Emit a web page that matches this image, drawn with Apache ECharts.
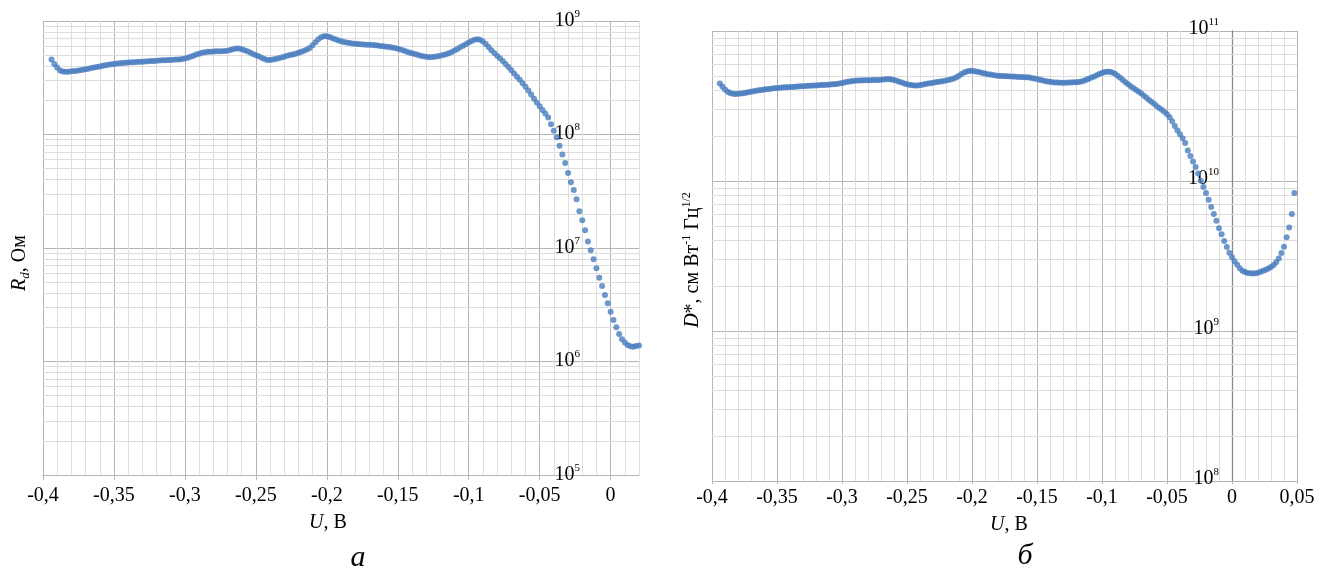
<!DOCTYPE html>
<html>
<head>
<meta charset="utf-8">
<script src="https://cdn.jsdelivr.net/npm/echarts@6/dist/echarts.min.js"></script>
<style>
html,body{margin:0;padding:0;background:#fff;}
#c{width:1324px;height:573px;}
</style>
</head>
<body>
<div id="c"></div>
<script>
// Bias voltage sweep, V (same sweep for both panels)
const U = [
 -0.394,-0.392,-0.39,-0.388,-0.386,-0.384,-0.382,-0.38,-0.378,-0.376,
 -0.374,-0.372,-0.37,-0.368,-0.366,-0.364,-0.362,-0.36,-0.358,-0.356,
 -0.354,-0.352,-0.35,-0.348,-0.346,-0.344,-0.342,-0.34,-0.338,-0.336,
 -0.334,-0.332,-0.33,-0.328,-0.326,-0.324,-0.322,-0.32,-0.318,-0.316,
 -0.314,-0.312,-0.31,-0.308,-0.306,-0.304,-0.302,-0.3,-0.298,-0.296,
 -0.294,-0.292,-0.29,-0.288,-0.286,-0.284,-0.282,-0.28,-0.278,-0.276,
 -0.274,-0.272,-0.27,-0.268,-0.266,-0.264,-0.262,-0.26,-0.258,-0.256,
 -0.254,-0.252,-0.25,-0.248,-0.246,-0.244,-0.242,-0.24,-0.238,-0.236,
 -0.234,-0.232,-0.23,-0.228,-0.226,-0.224,-0.222,-0.22,-0.218,-0.216,
 -0.214,-0.212,-0.21,-0.208,-0.206,-0.204,-0.202,-0.2,-0.198,-0.196,
 -0.194,-0.192,-0.19,-0.188,-0.186,-0.184,-0.182,-0.18,-0.178,-0.176,
 -0.174,-0.172,-0.17,-0.168,-0.166,-0.164,-0.162,-0.16,-0.158,-0.156,
 -0.154,-0.152,-0.15,-0.148,-0.146,-0.144,-0.142,-0.14,-0.138,-0.136,
 -0.134,-0.132,-0.13,-0.128,-0.126,-0.124,-0.122,-0.12,-0.118,-0.116,
 -0.114,-0.112,-0.11,-0.108,-0.106,-0.104,-0.102,-0.1,-0.098,-0.096,
 -0.094,-0.092,-0.09,-0.088,-0.086,-0.084,-0.082,-0.08,-0.078,-0.076,
 -0.074,-0.072,-0.07,-0.068,-0.066,-0.064,-0.062,-0.06,-0.058,-0.056,
 -0.054,-0.052,-0.05,-0.048,-0.046,-0.044,-0.042,-0.04,-0.038,-0.036,
 -0.034,-0.032,-0.03,-0.028,-0.026,-0.024,-0.022,-0.02,-0.018,-0.016,
 -0.014,-0.012,-0.01,-0.008,-0.006,-0.004,-0.002,0,0.002,0.004,
 0.006,0.008,0.01,0.012,0.014,0.016,0.018,0.02,0.022,0.024,
 0.026,0.028,0.03,0.032,0.034,0.036,0.038,0.04,0.042,0.044,
 0.046,0.048
];

// Panel a: differential resistance Rd, Ohm (U from -0.394 to 0.020)
const RD = [
 4.57e8,4.17e8,3.89e8,3.67e8,3.59e8,3.57e8,3.57e8,3.60e8,3.62e8,3.65e8,
 3.68e8,3.72e8,3.76e8,3.80e8,3.85e8,3.89e8,3.94e8,3.98e8,4.03e8,4.07e8,
 4.11e8,4.15e8,4.19e8,4.22e8,4.25e8,4.27e8,4.29e8,4.31e8,4.32e8,4.34e8,
 4.35e8,4.37e8,4.38e8,4.40e8,4.42e8,4.44e8,4.45e8,4.47e8,4.48e8,4.50e8,
 4.51e8,4.53e8,4.54e8,4.56e8,4.57e8,4.59e8,4.62e8,4.68e8,4.75e8,4.85e8,
 4.95e8,5.06e8,5.15e8,5.25e8,5.31e8,5.35e8,5.37e8,5.38e8,5.40e8,5.41e8,
 5.42e8,5.45e8,5.48e8,5.56e8,5.65e8,5.73e8,5.71e8,5.64e8,5.53e8,5.41e8,
 5.27e8,5.13e8,5.00e8,4.88e8,4.74e8,4.62e8,4.54e8,4.53e8,4.57e8,4.63e8,
 4.70e8,4.78e8,4.85e8,4.93e8,5.01e8,5.08e8,5.15e8,5.25e8,5.35e8,5.46e8,
 5.60e8,5.78e8,6.10e8,6.49e8,6.89e8,7.18e8,7.35e8,7.35e8,7.21e8,7.05e8,
 6.89e8,6.75e8,6.64e8,6.53e8,6.46e8,6.40e8,6.35e8,6.31e8,6.28e8,6.25e8,
 6.22e8,6.19e8,6.17e8,6.14e8,6.11e8,6.07e8,6.03e8,5.98e8,5.94e8,5.90e8,
 5.85e8,5.78e8,5.70e8,5.60e8,5.50e8,5.38e8,5.28e8,5.20e8,5.12e8,5.04e8,
 4.95e8,4.89e8,4.83e8,4.80e8,4.81e8,4.84e8,4.89e8,4.94e8,5.01e8,5.09e8,
 5.20e8,5.33e8,5.50e8,5.68e8,5.86e8,6.04e8,6.24e8,6.46e8,6.67e8,6.84e8,
 6.90e8,6.82e8,6.61e8,6.27e8,5.89e8,5.52e8,5.22e8,4.95e8,4.70e8,4.45e8,
 4.19e8,3.93e8,3.68e8,3.44e8,3.23e8,3.03e8,2.83e8,2.64e8,2.44e8,2.25e8,
 2.07e8,1.91e8,1.77e8,1.64e8,1.53e8,1.41e8,1.23e8,1.08e8,9.44e7,7.94e7,
 6.68e7,5.62e7,4.57e7,3.80e7,3.24e7,2.69e7,2.11e7,1.76e7,1.43e7,1.14e7,
 9.55e6,7.94e6,6.64e6,5.47e6,4.62e6,3.85e6,3.26e6,2.75e6,2.32e6,2.00e6,
 1.75e6,1.57e6,1.47e6,1.40e6,1.36e6,1.35e6,1.37e6,1.38e6
];

// Panel b: detectivity D*, cm W^-1 Hz^1/2 (U from -0.394 to 0.048)
const DSTAR = [
 4.47e10,4.27e10,4.07e10,3.94e10,3.86e10,3.82e10,3.80e10,3.81e10,3.83e10,3.85e10,
 3.88e10,3.91e10,3.94e10,3.96e10,3.99e10,4.02e10,4.05e10,4.07e10,4.09e10,4.11e10,
 4.13e10,4.15e10,4.17e10,4.19e10,4.20e10,4.21e10,4.22e10,4.23e10,4.24e10,4.25e10,
 4.26e10,4.28e10,4.29e10,4.30e10,4.31e10,4.32e10,4.33e10,4.34e10,4.35e10,4.36e10,
 4.37e10,4.38e10,4.39e10,4.41e10,4.42e10,4.44e10,4.47e10,4.50e10,4.54e10,4.58e10,
 4.61e10,4.65e10,4.66e10,4.67e10,4.68e10,4.69e10,4.69e10,4.70e10,4.70e10,4.71e10,
 4.71e10,4.72e10,4.73e10,4.75e10,4.76e10,4.78e10,4.75e10,4.71e10,4.66e10,4.59e10,
 4.53e10,4.47e10,4.42e10,4.38e10,4.35e10,4.34e10,4.34e10,4.36e10,4.39e10,4.43e10,
 4.46e10,4.49e10,4.52e10,4.55e10,4.58e10,4.61e10,4.65e10,4.68e10,4.72e10,4.76e10,
 4.83e10,4.92e10,5.04e10,5.16e10,5.28e10,5.37e10,5.42e10,5.43e10,5.40e10,5.35e10,
 5.30e10,5.25e10,5.20e10,5.15e10,5.12e10,5.08e10,5.06e10,5.04e10,5.02e10,5.01e10,
 5.00e10,4.99e10,4.98e10,4.97e10,4.95e10,4.94e10,4.93e10,4.92e10,4.91e10,4.90e10,
 4.86e10,4.82e10,4.78e10,4.73e10,4.69e10,4.65e10,4.61e10,4.58e10,4.56e10,4.54e10,
 4.53e10,4.52e10,4.52e10,4.52e10,4.53e10,4.54e10,4.55e10,4.56e10,4.57e10,4.60e10,
 4.66e10,4.73e10,4.81e10,4.89e10,4.98e10,5.07e10,5.16e10,5.25e10,5.32e10,5.36e10,
 5.35e10,5.28e10,5.18e10,5.04e10,4.88e10,4.71e10,4.55e10,4.42e10,4.29e10,4.17e10,
 4.06e10,3.95e10,3.84e10,3.72e10,3.60e10,3.48e10,3.37e10,3.27e10,3.16e10,3.07e10,
 2.98e10,2.89e10,2.79e10,2.66e10,2.50e10,2.33e10,2.17e10,2.05e10,1.93e10,1.79e10,
 1.60e10,1.47e10,1.35e10,1.24e10,1.12e10,1.005e10,9.12e9,8.32e9,7.50e9,6.70e9,
 6.03e9,5.43e9,4.84e9,4.42e9,3.98e9,3.63e9,3.33e9,3.10e9,2.92e9,2.77e9,
 2.62e9,2.52e9,2.47e9,2.44e9,2.43e9,2.42e9,2.43e9,2.45e9,2.48e9,2.52e9,
 2.56e9,2.61e9,2.67e9,2.75e9,2.87e9,3.04e9,3.31e9,3.65e9,4.22e9,4.90e9,
 6.03e9,8.32e9
];

// Tick labels
const X_TICKS_A = [-0.4,-0.35,-0.3,-0.25,-0.2,-0.15,-0.1,-0.05,0];
const X_TICKS_B = [-0.4,-0.35,-0.3,-0.25,-0.2,-0.15,-0.1,-0.05,0,0.05];
const Y_DECADES_A = [5, 9];   // 10^5 .. 10^9
const Y_DECADES_B = [8, 11];  // 10^8 .. 10^11

const FONT = '"Liberation Serif", "Times New Roman", serif';
const BLUE = '#4a7dbf';
const MAJOR = '#b5b5b5';
const MINOR = '#dedede';

function xLabel(v) {
  const r = Math.round(v * 100) / 100;
  return (r === 0 ? '0' : String(r)).replace('.', ',');
}
function yLabel(v) {
  return '{b|10}{s|' + Math.round(Math.log10(v)) + '}';
}
function minorLog(dec) {
  const out = [];
  for (let e = dec[0]; e < dec[1]; e++) for (let k = 2; k <= 9; k++) out.push(k * Math.pow(10, e));
  return out;
}
const yRich = {
  b: {fontFamily: FONT, fontSize: 20, lineHeight: 22, color: '#000', verticalAlign: 'bottom'},
  s: {fontFamily: FONT, fontSize: 11, lineHeight: 11, color: '#000', verticalAlign: 'top'}
};

function minorX(grid, max) {
  return {gridIndex: grid, type: 'value', position: 'bottom', min: -0.4, max: max, interval: 0.01,
    axisLine: {show: false, onZero: false}, axisTick: {show: false}, axisLabel: {show: false},
    splitLine: {show: true, lineStyle: {color: MINOR, width: 1}}};
}
function majorX(grid, max, ticks, margin, tickLen) {
  return {gridIndex: grid, type: 'value', position: 'bottom', min: -0.4, max: max, interval: 0.05,
    axisLine: {show: true, onZero: false, lineStyle: {color: MAJOR, width: 1}},
    axisTick: {show: true, length: tickLen, customValues: ticks, lineStyle: {color: MAJOR}},
    axisLabel: {customValues: ticks, formatter: xLabel, margin: margin, fontFamily: FONT, fontSize: 20, color: '#000'},
    splitLine: {show: true, lineStyle: {color: MAJOR, width: 1}}};
}
function gridLines(xi, yi, dec) {
  return {type: 'line', xAxisIndex: xi, yAxisIndex: yi, data: [[-0.4, Math.pow(10, dec[0])]],
    symbol: 'none', showSymbol: false, silent: true, z: 1, lineStyle: {width: 0},
    markLine: {silent: true, symbol: ['none', 'none'], z: 1, animation: false,
      label: {show: false}, emphasis: {disabled: true},
      lineStyle: {color: MINOR, type: 'solid', width: 1},
      data: minorLog(dec).map(v => ({yAxis: v}))}};
}

const chart = echarts.init(document.getElementById('c'));
chart.setOption({
  animation: false,
  backgroundColor: '#fff',
  grid: [
    {left: 43, top: 21, width: 596, height: 454, outerBoundsMode: 'none', containLabel: false},
    {left: 712, top: 31, width: 585, height: 450, outerBoundsMode: 'none', containLabel: false}
  ],
  xAxis: [
    minorX(0, 0.02),
    majorX(0, 0.02, X_TICKS_A, 11, 5),
    minorX(1, 0.05),
    majorX(1, 0.05, X_TICKS_B, 7, 3)
  ],
  yAxis: [
    // labels sit just left of U = 0 (offset moves the axis inward)
    {gridIndex: 0, type: 'log', logBase: 10, position: 'left', offset: -568,
      min: Math.pow(10, Y_DECADES_A[0]), max: Math.pow(10, Y_DECADES_A[1]),
      axisLine: {show: false, onZero: false}, axisTick: {show: false},
      axisLabel: {formatter: yLabel, rich: yRich, margin: 31, padding: [0, 0, 3, 0]},
      splitLine: {show: true, lineStyle: {color: MAJOR, width: 1}}},
    {gridIndex: 1, type: 'log', logBase: 10, position: 'left', offset: -520,
      min: Math.pow(10, Y_DECADES_B[0]), max: Math.pow(10, Y_DECADES_B[1]),
      axisLine: {show: true, onZero: false, lineStyle: {color: '#8a8a8a', width: 1.3}},
      axisTick: {show: false},
      axisLabel: {formatter: yLabel, rich: yRich, margin: 13, padding: [0, 0, 7, 0]},
      splitLine: {show: true, lineStyle: {color: MAJOR, width: 1}}}
  ],
  series: [
    gridLines(1, 0, Y_DECADES_A),
    gridLines(3, 1, Y_DECADES_B),
    {type: 'scatter', xAxisIndex: 1, yAxisIndex: 0, z: 3, silent: true,
      symbol: 'circle', symbolSize: 6, itemStyle: {color: BLUE},
      data: RD.map((r, i) => [U[i], r])},
    {type: 'scatter', xAxisIndex: 3, yAxisIndex: 1, z: 3, silent: true,
      symbol: 'circle', symbolSize: 6, itemStyle: {color: BLUE},
      data: DSTAR.map((d, i) => [U[i], d])}
  ],
  graphic: [
    {type: 'text', x: 328, y: 523, style: {text: '{i|U}{n|, В}', align: 'center', verticalAlign: 'middle',
      rich: {i: {fontFamily: FONT, fontSize: 20, fontStyle: 'italic', fill: '#000'}, n: {fontFamily: FONT, fontSize: 20, fill: '#000'}}}},
    {type: 'text', x: 1009, y: 525, style: {text: '{i|U}{n|, В}', align: 'center', verticalAlign: 'middle',
      rich: {i: {fontFamily: FONT, fontSize: 20, fontStyle: 'italic', fill: '#000'}, n: {fontFamily: FONT, fontSize: 20, fill: '#000'}}}},
    {type: 'text', x: 358, y: 558, style: {text: 'а', align: 'center', verticalAlign: 'middle',
      fontFamily: FONT, fontSize: 30, fontStyle: 'italic', fill: '#000'}},
    {type: 'text', x: 1025, y: 556, style: {text: 'б', align: 'center', verticalAlign: 'middle',
      fontFamily: FONT, fontSize: 30, fontStyle: 'italic', fill: '#000'}},
    {type: 'text', x: 20, y: 263, rotation: Math.PI / 2, style: {text: '{i|R}{sub|d}{n|, Ом}', align: 'center', verticalAlign: 'middle',
      rich: {
        i: {fontFamily: FONT, fontSize: 20, fontStyle: 'italic', fill: '#000', lineHeight: 24, verticalAlign: 'middle'},
        sub: {fontFamily: FONT, fontSize: 13, fontStyle: 'italic', fill: '#000', lineHeight: 13, verticalAlign: 'bottom'},
        n: {fontFamily: FONT, fontSize: 20, fill: '#000', lineHeight: 24, verticalAlign: 'middle'}}}},
    {type: 'text', x: 693, y: 260, rotation: Math.PI / 2, style: {text: '{i|D}{n|*, см Вт}{s|-1}{n| Гц}{s|1/2}', align: 'center', verticalAlign: 'middle',
      rich: {
        i: {fontFamily: FONT, fontSize: 20, fontStyle: 'italic', fill: '#000', lineHeight: 24, verticalAlign: 'middle'},
        s: {fontFamily: FONT, fontSize: 12, fill: '#000', lineHeight: 12, verticalAlign: 'top'},
        n: {fontFamily: FONT, fontSize: 20, fill: '#000', lineHeight: 24, verticalAlign: 'middle'}}}}
  ]
});
</script>
</body>
</html>
